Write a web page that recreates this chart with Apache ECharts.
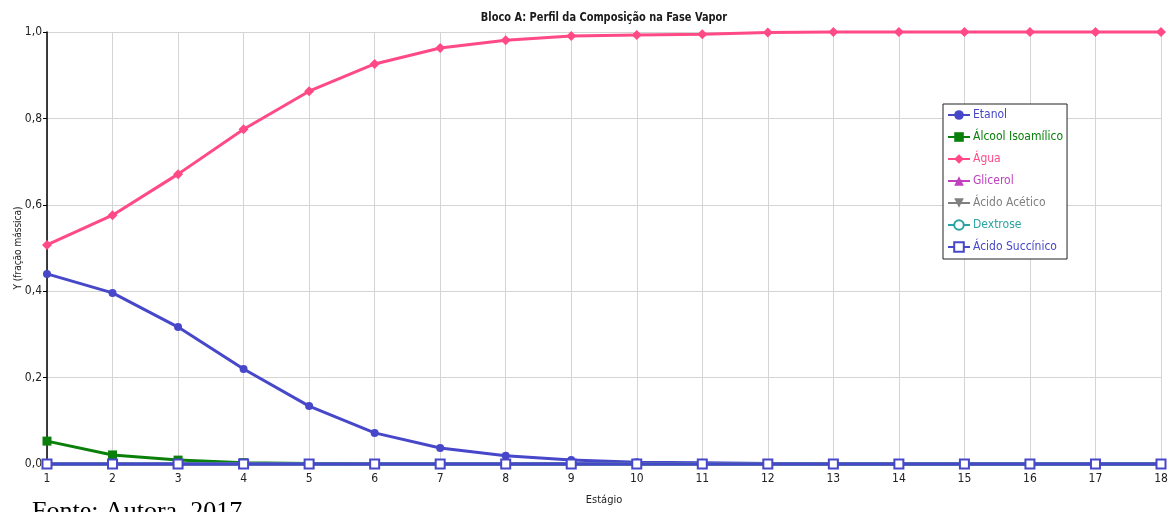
<!DOCTYPE html>
<html>
<head>
<meta charset="utf-8">
<script src="https://cdn.jsdelivr.net/npm/echarts@6/dist/echarts.min.js"></script>
<style>
  html, body { margin: 0; padding: 0; background: #fff; }
  #chart { width: 1173px; height: 512px; }
</style>
</head>
<body>
<div id="chart"></div>
<script>
// Stages of the column
const stages = [1, 2, 3, 4, 5, 6, 7, 8, 9, 10, 11, 12, 13, 14, 15, 16, 17, 18];
const yTicks = [0, 0.2, 0.4, 0.6, 0.8, 1.0];

// Vapor mass fraction per stage
const etanol = [0.440, 0.396, 0.317, 0.220, 0.134, 0.072, 0.037, 0.019, 0.009, 0.004, 0.003, 0.001, 0, 0, 0, 0, 0, 0];
const alcoolIsoamilico = [0.053, 0.021, 0.009, 0.003, 0.001, 0, 0, 0, 0, 0, 0, 0, 0, 0, 0, 0, 0, 0];
const agua = [0.507, 0.576, 0.671, 0.775, 0.863, 0.926, 0.963, 0.981, 0.991, 0.993, 0.995, 0.999, 1.0, 1.0, 1.0, 1.0, 1.0, 1.0];
const glicerol = [0, 0, 0, 0, 0, 0, 0, 0, 0, 0, 0, 0, 0, 0, 0, 0, 0, 0];
const acidoAcetico = [0, 0, 0, 0, 0, 0, 0, 0, 0, 0, 0, 0, 0, 0, 0, 0, 0, 0];
const dextrose = [0, 0, 0, 0, 0, 0, 0, 0, 0, 0, 0, 0, 0, 0, 0, 0, 0, 0];
const acidoSuccinico = [0, 0, 0, 0, 0, 0, 0, 0, 0, 0, 0, 0, 0, 0, 0, 0, 0, 0];

const seriesDefs = [
  { name: 'Etanol', data: etanol, color: '#4747c9', symbol: 'circle', size: 8 },
  { name: 'Álcool Isoamílico', data: alcoolIsoamilico, color: '#0a800a', symbol: 'rect', size: 9 },
  { name: 'Água', data: agua, color: '#ff4a86', symbol: 'diamond', size: 10 },
  { name: 'Glicerol', data: glicerol, color: '#c040c0', symbol: 'triangle', size: 9 },
  { name: 'Ácido Acético', data: acidoAcetico, color: '#808080', symbol: 'path://M0,0 L10,0 L5,8 Z', size: 9 },
  { name: 'Dextrose', data: dextrose, color: '#2aa3a3', symbol: 'emptyCircle', size: 8 },
  { name: 'Ácido Succínico', data: acidoSuccinico, color: '#4747c9', symbol: 'emptyRect', size: 9 }
];

const fontUI = '"DejaVu Sans Condensed", "DejaVu Sans", sans-serif';

const series = seriesDefs.map((s, i) => ({
  name: s.name,
  type: 'line',
  data: s.data.map((v, k) => [stages[k], v]),
  symbol: s.symbol,
  symbolSize: s.size,
  showAllSymbol: true,
  clip: false,
  z: 2 + i,
  lineStyle: { color: s.color, width: 3 },
  itemStyle: { color: s.color, borderWidth: s.symbol.indexOf('empty') === 0 ? 2 : 0 },
  emphasis: { disabled: true },
  animation: false
}));

const chart = echarts.init(document.getElementById('chart'), null, { renderer: 'canvas' });
chart.setOption({
  backgroundColor: '#ffffff',
  animation: false,
  grid: { left: 47, right: 12, top: 32, bottom: 48, containLabel: false, outerBoundsMode: 'none' },
  legend: {
    orient: 'vertical',
    left: 943,
    top: 104,
    width: 124,
    padding: [5, 4, 6, 4],
    itemGap: 10,
    itemWidth: 22,
    itemHeight: 12,
    borderColor: '#222',
    borderWidth: 1,
    backgroundColor: '#fff',
    data: seriesDefs.map(s => ({ name: s.name, textStyle: { color: s.color } })),
    textStyle: { fontFamily: fontUI, fontSize: 12, padding: [0, 0, 0, -2] }
  },
  xAxis: {
    type: 'value',
    min: 1,
    max: 18,
    interval: 1,
    name: 'Estágio',
    nameLocation: 'middle',
    nameGap: 31,
    nameMoveOverlap: false,
    nameTextStyle: { fontFamily: fontUI, fontSize: 11, color: '#222' },
    axisLine: { show: false },
    axisTick: { show: false },
    axisLabel: {
      fontFamily: fontUI,
      fontSize: 12,
      color: '#222',
      margin: 9,
      formatter: v => String(v)
    },
    splitLine: { show: true, lineStyle: { color: '#d4d4d4', width: 1 } }
  },
  yAxis: {
    type: 'value',
    min: 0,
    max: 1,
    interval: 0.2,
    name: 'Y (fração mássica)',
    nameLocation: 'middle',
    nameGap: 24,
    nameMoveOverlap: false,
    nameRotate: 90,
    nameTextStyle: { fontFamily: fontUI, fontSize: 10, color: '#222' },
    axisLine: { show: true, onZero: false, lineStyle: { color: '#000', width: 1.5 } },
    axisTick: { show: true, length: 4, lineStyle: { color: '#000' } },
    axisLabel: {
      fontFamily: fontUI,
      fontSize: 12,
      color: '#222',
      margin: 5,
      formatter: v => {
        const t = yTicks.find(t => Math.abs(t - v) < 1e-9);
        return (t !== undefined ? t : v).toFixed(1).replace('.', ',');
      }
    },
    splitLine: { show: true, lineStyle: { color: '#d4d4d4', width: 1 } }
  },
  graphic: [{
    // Chart title, horizontally condensed
    type: 'text',
    x: 604,
    y: 11,
    scaleX: 0.84,
    style: {
      text: 'Bloco A: Perfil da Composição na Fase Vapor',
      font: 'bold 13px "DejaVu Sans Condensed", "DejaVu Sans", sans-serif',
      fill: '#1a1a1a',
      align: 'center',
      verticalAlign: 'top'
    }
  }, {
    type: 'text',
    left: 32,
    top: 499,
    style: {
      text: 'Fonte: Autora, 2017',
      font: '26px "Liberation Serif", "DejaVu Serif", serif',
      fill: '#000'
    }
  }],
  series: series
});
</script>
</body>
</html>
